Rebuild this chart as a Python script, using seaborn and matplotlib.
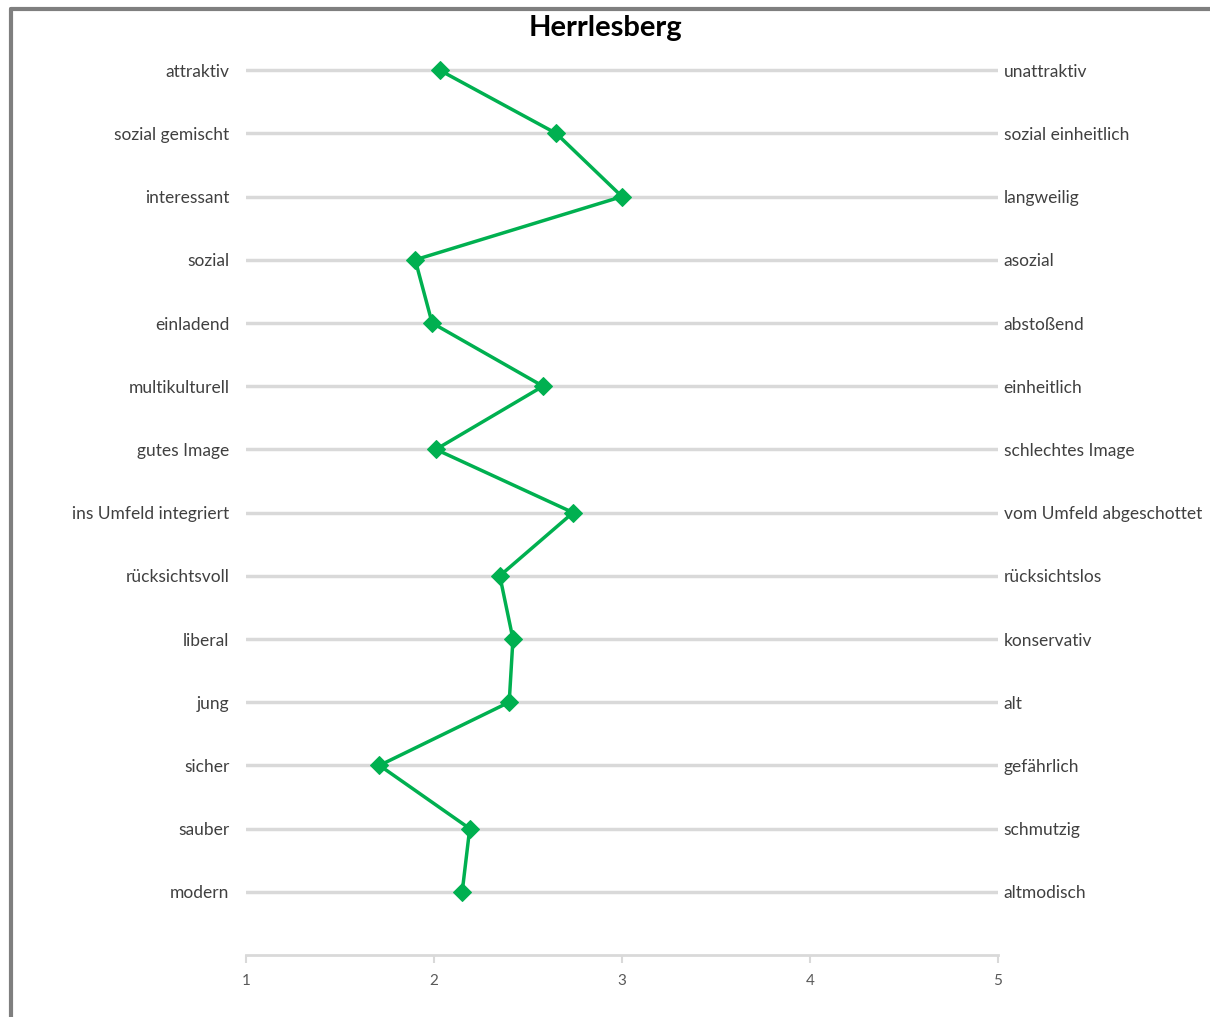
import pandas as pd
import matplotlib
matplotlib.use("Agg")
import matplotlib.pyplot as plt
import seaborn as sns
from matplotlib.lines import Line2D

# Polaritätsprofil Herrlesberg
links = ["attraktiv", "sozial gemischt", "interessant", "sozial", "einladend",
         "multikulturell", "gutes Image", "ins Umfeld integriert", "rücksichtsvoll",
         "liberal", "jung", "sicher", "sauber", "modern"]
rechts = ["unattraktiv", "sozial einheitlich", "langweilig", "asozial", "abstoßend",
          "einheitlich", "schlechtes Image", "vom Umfeld abgeschottet", "rücksichtslos",
          "konservativ", "alt", "gefährlich", "schmutzig", "altmodisch"]
werte = [2.03, 2.65, 3.0, 1.90, 1.99, 2.58, 2.01, 2.74, 2.35, 2.42, 2.40, 1.71, 2.19, 2.15]
x_ticks = [1, 2, 3, 4, 5]

sns.set_theme(style="white")
plt.rcParams["font.family"] = ["Lato", "DejaVu Sans"]

df = pd.DataFrame({"merkmal": links, "wert": werte})
df["pos"] = list(range(len(links), 0, -1))

fig = plt.figure(figsize=(12.1, 10.17), dpi=100)
ax = fig.add_axes([246 / 1210, 1 - 955 / 1017, (998 - 246) / 1210, (955 - 7) / 1017])

grau = "#d9d9d9"
gruen = "#00b050"

ax.set_ylim(0, 15)
ax.set_xlim(1, 5)
ax.set_yticks(df["pos"])
ax.set_yticklabels(links)
ax.yaxis.grid(True, color=grau, linewidth=2.5)
ax.xaxis.grid(False)

sns.lineplot(data=df, x="wert", y="pos", sort=False, estimator=None, ax=ax,
             color=gruen, linewidth=2.5, marker="D", markersize=9,
             markeredgecolor=gruen, markerfacecolor=gruen, zorder=3)

ax.set_xticks(x_ticks)
ax.set_xlabel("")
ax.set_ylabel("")
for s in ["left", "right", "top"]:
    ax.spines[s].set_visible(False)
ax.spines["bottom"].set_color(grau)
ax.spines["bottom"].set_linewidth(2)
ax.tick_params(axis="x", bottom=True, length=6, width=1.5, color=grau,
               labelsize=11, labelcolor="#595959", pad=8)
ax.tick_params(axis="y", left=False, length=0, labelsize=12.5, labelcolor="#404040", pad=12)

ax2 = ax.twinx()
ax2.set_ylim(ax.get_ylim())
ax2.set_yticks(df["pos"])
ax2.set_yticklabels(rechts)
ax2.tick_params(axis="y", right=False, length=0, labelsize=12.5, labelcolor="#404040", pad=4)
ax2.grid(False)
for s in ax2.spines.values():
    s.set_visible(False)

fig.text(0.5, 1 - 28 / 1017, "Herrlesberg", ha="center", va="center",
         fontsize=21, fontweight="bold", color="black")

# grauer Rahmen links und oben
fig.add_artist(Line2D([11 / 1210, 11 / 1210], [0, 1 - 9 / 1017], transform=fig.transFigure,
                      color="#7f7f7f", linewidth=3))
fig.add_artist(Line2D([11 / 1210, 1], [1 - 9 / 1017, 1 - 9 / 1017], transform=fig.transFigure,
                      color="#7f7f7f", linewidth=3))

fig.savefig("out.png", dpi=100)
